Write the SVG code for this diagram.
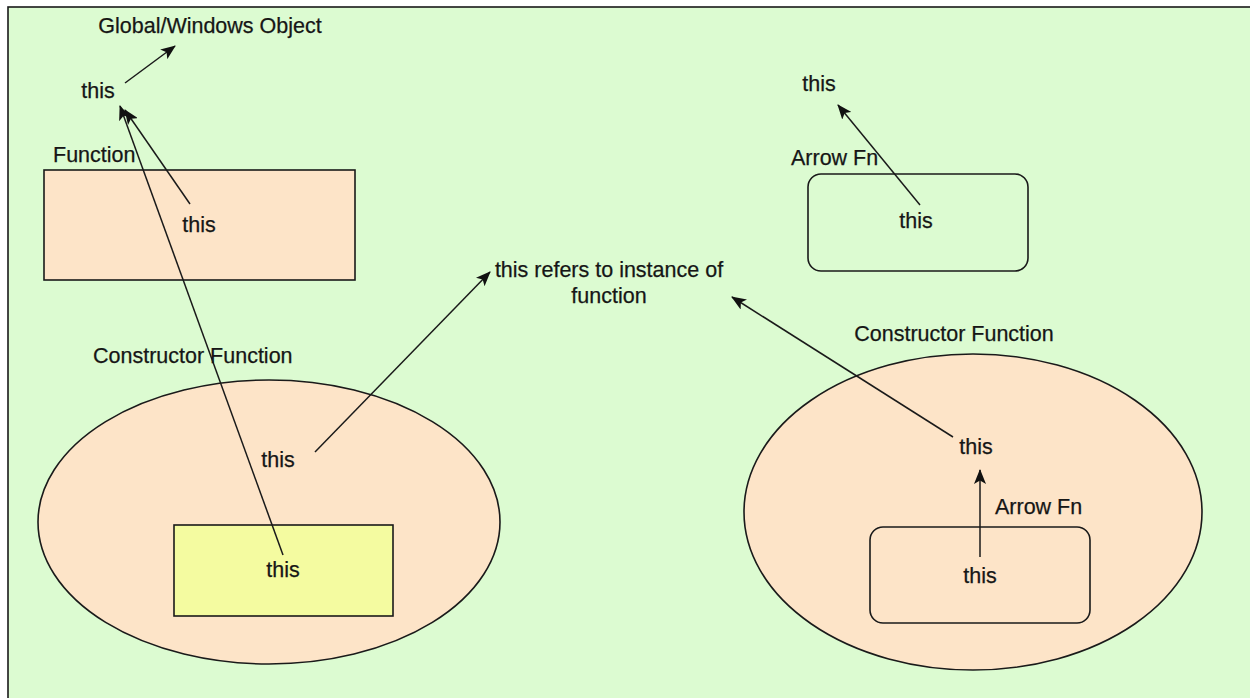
<svg xmlns="http://www.w3.org/2000/svg" width="1250" height="698" viewBox="0 0 1250 698">
<defs>
<style>
text{font-family:"Liberation Sans",Arial,sans-serif;font-size:21.5px;fill:#161616;stroke:#161616;stroke-width:0.25}
.c{text-anchor:middle}
.shape{stroke:#1a1a1a;stroke-width:1.6}
.peach{fill:#fde4c8}
.conn line{stroke:#1a1a1a;stroke-width:1.5;marker-end:url(#ah)}
</style>
<marker id="ah" markerUnits="userSpaceOnUse" markerWidth="15" markerHeight="12" refX="14" refY="6" orient="auto" viewBox="0 0 15 12">
<path d="M0,0 L15,6 L0,12 L3.5,6 z" fill="#111"/>
</marker>
</defs>
<rect x="0" y="0" width="1250" height="698" fill="#ffffff"/>
<rect x="8" y="7" width="1250" height="700" fill="#dcfbd1" stroke="#1a1a1a" stroke-width="1.6"/>

<g id="global">
<text class="c" x="210" y="33">Global/Windows Object</text>
</g>
<g id="this-global">
<text class="c" x="98" y="98">this</text>
</g>
<g id="function">
<text x="53" y="162">Function</text>
<rect class="shape peach" x="44" y="170" width="311" height="110"/>
<text class="c" x="199" y="232">this</text>
</g>
<g id="constructor-left">
<text x="93" y="363">Constructor Function</text>
<ellipse class="shape peach" cx="269" cy="522" rx="231" ry="142"/>
<text class="c" x="278" y="467">this</text>
</g>
<g id="inner-yellow">
<rect class="shape" fill="#f4fba0" x="174" y="525" width="219" height="91"/>
<text class="c" x="283" y="577">this</text>
</g>
<g id="instance">
<text class="c" x="609" y="277">this refers to instance of</text>
<text class="c" x="609" y="303">function</text>
</g>
<g id="this-top-right">
<text class="c" x="819" y="91">this</text>
</g>
<g id="arrow-fn-top">
<text x="791" y="165">Arrow Fn</text>
<rect class="shape" fill="none" x="808" y="174" width="220" height="97" rx="13" ry="13"/>
<text class="c" x="916" y="228">this</text>
</g>
<g id="constructor-right">
<text class="c" x="954" y="341">Constructor Function</text>
<ellipse class="shape peach" cx="973" cy="512" rx="229" ry="158"/>
<text class="c" x="976" y="454">this</text>
</g>
<g id="arrow-fn-inner">
<text x="995" y="514">Arrow Fn</text>
<rect class="shape" fill="none" x="870" y="527" width="220" height="96" rx="13" ry="13"/>
<text class="c" x="980" y="583">this</text>
</g>

<g id="connectors" class="conn">
<line x1="125" y1="83" x2="175" y2="46"/>
<line x1="190" y1="204" x2="125" y2="110"/>
<line x1="283" y1="555" x2="120" y2="106"/>
<line x1="315" y1="452" x2="490" y2="272"/>
<line x1="953" y1="437" x2="732" y2="297"/>
<line x1="980" y1="557" x2="980" y2="470"/>
<line x1="920" y1="205" x2="838" y2="105"/>
</g>
</svg>
